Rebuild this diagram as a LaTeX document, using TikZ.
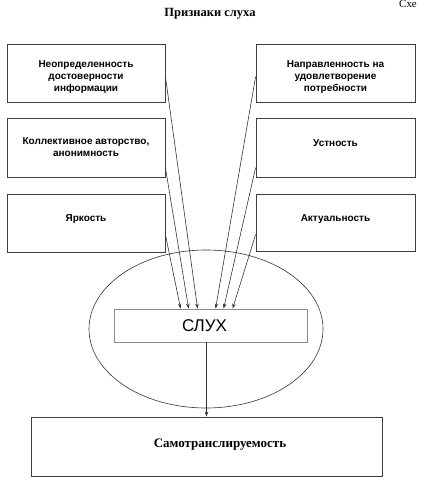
\documentclass[tikz,border=0pt]{standalone}
\usepackage{fontspec}
\setmainfont{Liberation Serif}
\setsansfont{Liberation Sans}
\usetikzlibrary{arrows.meta,calc,shapes.geometric}
\begin{document}
\begin{tikzpicture}[x=1pt,y=-1pt,
  sbox/.style={draw=black!75, line width=0.8pt, minimum width=158pt, minimum height=58pt, inner sep=0pt},
  stxt/.style={align=center, font=\sffamily\bfseries\fontsize{10}{11.8}\selectfont, inner sep=0pt, anchor=north},
  link/.style={draw=black!80, line width=0.6pt, -{Stealth[length=5pt,width=3.5pt]}},
]
\useasboundingbox (0,0) rectangle (424,489);
\node[font=\rmfamily\bfseries\fontsize{12.5}{14}\selectfont] (title) at (210,14) {Признаки слуха};
\node[font=\rmfamily\fontsize{11}{13}\selectfont, anchor=base west, inner sep=0pt] (corner) at (399,8) {Схе};

% left boxes
\node[sbox] (l1) at (86,73) {};
\node[sbox, minimum height=59pt] (l2) at (86,147.5) {};
\node[sbox] (l3) at (86,223) {};
% right boxes
\node[sbox, minimum width=159pt] (r1) at (335.5,73) {};
\node[sbox, minimum width=159pt, minimum height=59pt] (r2) at (335.5,147.5) {};
\node[sbox, minimum width=159pt, minimum height=57pt] (r3) at (335.5,222.5) {};

\node[stxt] (tl1) at ($(l1.north)+(0,17)$) {Неопределенность\\достоверности\\информации};
\node[stxt] (tl2) at ($(l2.north)+(0,20)$) {Коллективное авторство,\\анонимность};
\node[stxt] (tl3) at ($(l3.north)+(0,21)$) {Яркость};
\node[stxt] (tr1) at ($(r1.north)+(0,17)$) {Направленность на\\удовлетворение\\потребности};
\node[stxt] (tr2) at ($(r2.north)+(0,22)$) {Устность};
\node[stxt] (tr3) at ($(r3.north)+(0,21)$) {Актуальность};

% ellipse and central box
\node[draw=black!80, line width=0.6pt, ellipse, minimum width=234pt, minimum height=158pt, inner sep=0pt] (ell) at (206,329) {};
\node[draw=black!45, line width=0.8pt, fill=white, minimum width=193pt, minimum height=33pt, inner sep=0pt] (slux) at (210.5,325.5) {};
\node[font=\sffamily\fontsize{17}{19}\selectfont, inner sep=0pt] (sluxt) at (204.5,325.5) {СЛУХ};

% bottom box
\node[draw=black!75, line width=0.8pt, minimum width=351pt, minimum height=59pt, inner sep=0pt] (bot) at (206.5,446.5) {};
\node[font=\rmfamily\bfseries\fontsize{13}{15}\selectfont, inner sep=0pt] (bott) at (220,445) {Самотранслируемость};

% connectors
\coordinate (sl1) at ($(l1.north east)+(0,33)$);
\coordinate (sl2) at ($(l2.north east)+(0,50)$);
\coordinate (sl3) at ($(l3.north east)+(0,41)$);
\coordinate (sr1) at ($(r1.north west)+(0,33)$);
\coordinate (sr2) at ($(r2.north west)+(0,50)$);
\coordinate (sr3) at ($(r3.north west)+(0,41)$);
\draw[link] (sl1) -- ($(slux.north west)+(84,0)$);
\draw[link] (sl2) -- ($(slux.north west)+(75,0)$);
\draw[link] (sl3) -- ($(slux.north west)+(67,0)$);
\draw[link] (sr1) -- ($(slux.north west)+(102,0)$);
\draw[link] (sr2) -- ($(slux.north west)+(110,0)$);
\draw[link] (sr3) -- ($(slux.north west)+(119,0)$);
\draw[link] (bot.north |- slux.south) -- (bot.north);
\end{tikzpicture}
\end{document}
